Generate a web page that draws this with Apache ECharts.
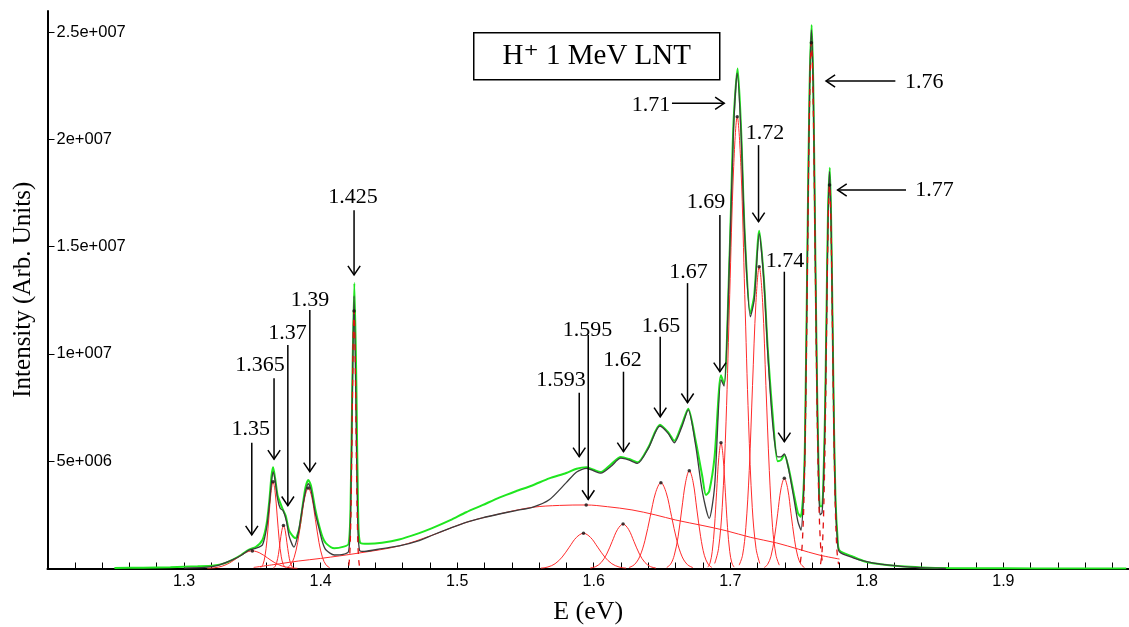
<!DOCTYPE html>
<html><head><meta charset="utf-8">
<script src="https://cdn.jsdelivr.net/npm/echarts@6/dist/echarts.min.js"></script>
<style>html,body{margin:0;padding:0;background:#fff}#c{width:1129px;height:627px}</style>
</head><body><div id="c"></div>
<script>
// Intensities in units of 1e6 (Arb. Units); energies in eV
const measured = [[1.249,0.02],[1.27,0.04],[1.29,0.06],[1.31,0.1],[1.322,0.14],[1.33,0.25],[1.3354,0.4],[1.342,0.64],[1.3476,0.88],[1.3525,1.0],[1.3574,1.33],[1.3605,2.1],[1.3625,3.2],[1.364,4.3],[1.3652,4.72],[1.3667,4.2],[1.3685,3.4],[1.3705,3.05],[1.372,2.8],[1.3745,2.45],[1.377,1.75],[1.3815,1.41],[1.3845,1.9],[1.387,3.0],[1.389,3.8],[1.391,4.12],[1.393,3.85],[1.396,2.8],[1.3985,2.1],[1.4015,1.45],[1.404,1.17],[1.41,0.94],[1.417,1.02],[1.4205,1.15],[1.4219,2.8],[1.4232,8.5],[1.4247,13.3],[1.4262,8.5],[1.4275,2.6],[1.429,1.2],[1.435,1.15],[1.445,1.2],[1.4575,1.35],[1.4722,1.65],[1.4817,1.88],[1.495,2.25],[1.5066,2.62],[1.5185,2.95],[1.5308,3.3],[1.543,3.6],[1.555,3.87],[1.5674,4.2],[1.5799,4.45],[1.5875,4.65],[1.5947,4.72],[1.6,4.6],[1.6053,4.5],[1.6125,4.85],[1.6199,5.2],[1.626,5.1],[1.6321,4.95],[1.64,5.65],[1.6485,6.7],[1.6545,6.35],[1.659,5.95],[1.6645,6.7],[1.6692,7.45],[1.6745,6.0],[1.6795,4.3],[1.6822,3.42],[1.6846,3.6],[1.6885,5.2],[1.6932,9.0],[1.6955,8.6],[1.6996,14.8],[1.7024,20.8],[1.7054,23.3],[1.7079,20.5],[1.7106,15.6],[1.7147,11.9],[1.7175,12.7],[1.7212,15.74],[1.7245,13.6],[1.7275,10.2],[1.731,7.2],[1.7347,5.0],[1.7371,5.05],[1.7396,5.3],[1.7425,4.75],[1.7465,3.5],[1.7495,2.6],[1.7515,2.41],[1.7535,3.5],[1.7548,6.3],[1.7567,16.0],[1.7581,22.5],[1.7596,25.33],[1.7608,22.5],[1.7621,15.7],[1.7635,8.7],[1.7648,4.3],[1.7657,2.9],[1.7672,2.9],[1.7683,4.3],[1.7694,7.3],[1.7705,12.0],[1.7716,16.7],[1.7729,18.68],[1.7738,16.5],[1.7749,11.6],[1.776,6.5],[1.7771,3.2],[1.7785,1.5],[1.7799,0.85],[1.79,0.55],[1.8,0.3],[1.81,0.2],[1.825,0.1],[1.84,0.05],[1.86,0.02],[1.9,0.01],[1.95,0.0],[1.99,0.0]];

const fit = [[1.30,0.02],[1.315,0.05],[1.325,0.15],[1.3354,0.4],[1.342,0.62],[1.3476,0.86],[1.3525,0.94],[1.3574,1.1],[1.3605,1.9],[1.3625,3.0],[1.364,4.0],[1.3652,4.5],[1.3667,4.1],[1.3685,3.25],[1.3705,2.8],[1.3725,2.7],[1.375,2.2],[1.377,1.5],[1.3805,1.0],[1.3835,1.6],[1.3865,2.75],[1.389,3.6],[1.391,3.95],[1.393,3.65],[1.396,2.6],[1.3985,1.95],[1.4015,1.2],[1.404,0.86],[1.41,0.63],[1.4165,0.66],[1.4205,0.8],[1.4219,2.4],[1.4232,8.0],[1.4245,12.7],[1.4258,8.0],[1.4271,2.4],[1.4285,0.85],[1.432,0.8],[1.445,0.93],[1.4575,1.05],[1.4722,1.3],[1.4817,1.55],[1.495,1.88],[1.5066,2.15],[1.5185,2.36],[1.5308,2.54],[1.543,2.7],[1.555,2.85],[1.5674,3.2],[1.5799,4.0],[1.5875,4.5],[1.5947,4.67],[1.6,4.55],[1.6053,4.44],[1.6125,4.75],[1.6199,5.14],[1.626,5.05],[1.6321,4.9],[1.64,5.6],[1.6485,6.64],[1.6545,6.3],[1.659,5.86],[1.6645,6.6],[1.6692,7.39],[1.6745,5.8],[1.6795,3.6],[1.6846,2.34],[1.6885,3.8],[1.6932,8.8],[1.6955,8.5],[1.6996,14.7],[1.7024,20.5],[1.7051,23.1],[1.7079,20.3],[1.7106,15.5],[1.7147,11.73],[1.7175,12.5],[1.7212,15.6],[1.7245,13.5],[1.7275,10.0],[1.731,6.8],[1.7347,5.2],[1.7371,5.2],[1.7396,5.34],[1.7425,4.7],[1.7465,3.3],[1.7495,2.2],[1.7518,1.79],[1.7535,3.2],[1.7548,6.0],[1.7567,15.8],[1.7581,22.3],[1.7594,25.1],[1.7608,22.3],[1.7621,15.5],[1.7635,8.5],[1.7648,4.0],[1.7657,2.5],[1.7672,2.6],[1.7683,4.0],[1.7694,7.0],[1.7705,11.6],[1.7716,16.3],[1.7727,18.5],[1.7738,16.3],[1.7749,11.4],[1.776,6.3],[1.7771,3.0],[1.7785,1.3],[1.7799,0.78],[1.79,0.5],[1.8,0.32],[1.81,0.2],[1.825,0.1],[1.84,0.04],[1.858,0.0]];

// fitted components
const comp135 = [[1.317,0.009],[1.3225,0.036],[1.328,0.111],[1.3335,0.266],[1.339,0.498],[1.3445,0.723],[1.35,0.82],[1.3555,0.723],[1.361,0.498],[1.3665,0.266],[1.372,0.111],[1.3775,0.036],[1.383,0.009]];
const comp1365 = [[1.3562,0.045],[1.3577,0.177],[1.3592,0.545],[1.3607,1.312],[1.3622,2.45],[1.3637,3.563],[1.3652,4.04],[1.3667,3.563],[1.3682,2.45],[1.3697,1.312],[1.3712,0.545],[1.3727,0.177],[1.3742,0.045]];
const comp137 = [[1.3653,0.022],[1.3666,0.088],[1.3678,0.27],[1.3691,0.65],[1.3703,1.213],[1.3716,1.765],[1.3728,2.0],[1.3741,1.765],[1.3753,1.213],[1.3766,0.65],[1.3778,0.27],[1.3791,0.088],[1.3803,0.022]];
const comp139 = [[1.3754,0.042],[1.378,0.165],[1.3806,0.507],[1.3832,1.218],[1.3858,2.275],[1.3884,3.308],[1.391,3.75],[1.3936,3.308],[1.3962,2.275],[1.3988,1.218],[1.4014,0.507],[1.404,0.165],[1.4066,0.042]];
const comp1425 = [[1.4206,0.133],[1.42125,0.527],[1.4219,1.624],[1.42255,3.896],[1.4232,7.28],[1.42385,10.59],[1.4245,12.0],[1.42515,10.59],[1.4258,7.28],[1.42645,3.896],[1.4271,1.624],[1.42775,0.527],[1.4284,0.133]];
const comp1595 = [[1.351,0.05],[1.37,0.22],[1.384,0.35],[1.40,0.47],[1.428,0.72],[1.4575,1.05],[1.4817,1.55],[1.5066,2.15],[1.5308,2.54],[1.555,2.85],[1.575,2.94],[1.5945,2.96],[1.61,2.88],[1.628,2.73],[1.645,2.5],[1.66,2.26],[1.68,2.0],[1.697,1.76],[1.715,1.45],[1.734,1.19],[1.75,0.9],[1.765,0.63],[1.78,0.44]];
const comp1593 = [[1.5613,0.018],[1.5665,0.072],[1.5717,0.222],[1.5769,0.533],[1.5821,0.995],[1.5873,1.447],[1.5925,1.64],[1.5977,1.447],[1.6029,0.995],[1.6081,0.533],[1.6133,0.222],[1.6185,0.072],[1.6237,0.018]];
const comp162 = [[1.5975,0.023],[1.6015,0.091],[1.6055,0.28],[1.6095,0.672],[1.6135,1.256],[1.6175,1.826],[1.6215,2.07],[1.6255,1.826],[1.6295,1.256],[1.6335,0.672],[1.6375,0.28],[1.6415,0.091],[1.6455,0.023]];
const comp165 = [[1.6258,0.044],[1.6297,0.176],[1.6336,0.541],[1.6375,1.299],[1.6414,2.427],[1.6453,3.53],[1.6492,4.0],[1.6531,3.53],[1.657,2.427],[1.6609,1.299],[1.6648,0.541],[1.6687,0.176],[1.6726,0.044]];
const comp167 = [[1.6535,0.05],[1.6563,0.2],[1.659,0.617],[1.6618,1.481],[1.6645,2.768],[1.6673,4.024],[1.67,4.56],[1.6728,4.024],[1.6755,2.768],[1.6783,1.481],[1.681,0.617],[1.6838,0.2],[1.6865,0.05]];
const comp169 = [[1.6836,0.065],[1.6852,0.257],[1.6868,0.793],[1.6884,1.903],[1.69,3.557],[1.6916,5.168],[1.6932,5.86],[1.6948,5.168],[1.6964,3.557],[1.698,1.903],[1.6996,0.793],[1.7012,0.257],[1.7028,0.065]];
const comp171 = [[1.6886,0.234],[1.6914,0.924],[1.6941,2.848],[1.6969,6.835],[1.6996,12.77],[1.7024,18.57],[1.7051,21.05],[1.7079,18.57],[1.7106,12.77],[1.7134,6.835],[1.7161,2.848],[1.7189,0.924],[1.7216,0.234]];
const comp172 = [[1.7065,0.156],[1.709,0.617],[1.7114,1.902],[1.7139,4.565],[1.7163,8.534],[1.7188,12.4],[1.7212,14.06],[1.7237,12.4],[1.7261,8.534],[1.7286,4.565],[1.731,1.902],[1.7335,0.617],[1.7359,0.156]];
const comp174 = [[1.7249,0.046],[1.7273,0.185],[1.7298,0.568],[1.7322,1.364],[1.7347,2.549],[1.7371,3.705],[1.7396,4.2],[1.7421,3.705],[1.7445,2.549],[1.747,1.364],[1.7494,0.568],[1.7519,0.185],[1.7543,0.046]];
const comp176 = [[1.7513,0.272],[1.75265,1.075],[1.754,3.315],[1.75535,7.96],[1.7567,14.87],[1.75805,21.61],[1.7594,24.5],[1.76075,21.61],[1.7621,14.87],[1.76345,7.96],[1.7648,3.315],[1.76615,1.075],[1.7675,0.272]];
const comp177 = [[1.7661,0.198],[1.7672,0.784],[1.7683,2.418],[1.7694,5.802],[1.7705,10.84],[1.7716,15.76],[1.7727,17.87],[1.7738,15.76],[1.7749,10.84],[1.776,5.802],[1.7771,2.418],[1.7782,0.784],[1.7793,0.198]];

const peakDots = [[1.35,0.82],[1.3652,4.04],[1.3728,2.0],[1.391,3.75],[1.4245,12.0],[1.5945,2.96],[1.5925,1.64],[1.6215,2.07],[1.6492,4.0],[1.67,4.56],[1.6932,5.86],[1.7051,21.05],[1.7212,14.06],[1.7396,4.2],[1.7594,24.5],[1.7727,17.87]];

const yTickLabels = {5:'5e+006',10:'1e+007',15:'1.5e+007',20:'2e+007',25:'2.5e+007'};
const xTickLabels = ['1.3','1.4','1.5','1.6','1.7','1.8','1.9'];

// peak annotations: text, arrow tail, arrow tip, label centre (data coordinates)
const annoText  = ['1.35','1.365','1.37','1.39','1.425','1.593','1.595','1.62','1.65','1.67','1.69','1.71','1.72','1.74','1.76','1.77'];
const annoTail  = [[1.3496,5.86],[1.3659,8.86],[1.376,10.41],[1.3921,12.05],[1.4245,16.7],[1.5894,8.19],[1.596,10.88],[1.6218,9.17],[1.6487,10.8],[1.6687,13.3],[1.6924,16.47],[1.6573,21.68],[1.7207,19.73],[1.7396,13.83],[1.8209,22.72],[1.8287,17.64]];
const annoTip   = [[1.3496,1.56],[1.3659,5.09],[1.376,2.93],[1.3921,4.51],[1.4245,13.68],[1.5894,5.21],[1.596,3.22],[1.6218,5.44],[1.6487,7.07],[1.6687,7.73],[1.6924,9.17],[1.6956,21.68],[1.7207,16.16],[1.7396,5.91],[1.7701,22.72],[1.7786,17.64]];
const annoLabel = [[1.3489,6.49],[1.3557,9.48],[1.3757,10.96],[1.3923,12.51],[1.4238,17.28],[1.576,8.78],[1.5955,11.11],[1.6211,9.72],[1.6492,11.3],[1.6694,13.83],[1.6822,17.09],[1.6419,21.6],[1.7254,20.28],[1.7401,14.3],[1.8421,22.64],[1.8495,17.64]];

const titleText = 'H\u207A 1 MeV LNT';

const SERIF = '"Liberation Serif","DejaVu Serif",serif';
const SANS = '"Liberation Sans",Arial,sans-serif';

const red = '#ff2b2b';
const solidComps = [comp135, comp1365, comp137, comp139, comp1595, comp1593, comp162, comp165, comp167, comp169, comp171, comp172, comp174];
const dashedComps = [comp1425, comp176, comp177];

const series = [];
series.push({type:'line', name:'measured', data:measured, showSymbol:false, smooth:0.25, z:1,
  lineStyle:{color:'#1fe61f', width:2}, itemStyle:{color:'#1fe61f'}, silent:true});
solidComps.forEach(c => series.push({type:'line', data:c, showSymbol:false, smooth:0.35, z:2,
  lineStyle:{color:red, width:1}, silent:true}));
series.push({type:'line', name:'fit', data:fit, showSymbol:false, smooth:0.25, z:3,
  lineStyle:{color:'#3c3c3c', width:1.3}, silent:true});
dashedComps.forEach(c => series.push({type:'line', data:c, showSymbol:false, smooth:0.35, z:4,
  lineStyle:{color:'#e01010', width:1.3, type:[6,6]}, silent:true}));
series.push({type:'scatter', data:peakDots, symbol:'circle', symbolSize:3.5, z:5,
  itemStyle:{color:'#111'}, silent:true});
series.push({type:'custom', data:annoTip, z:6, silent:true, clip:false,
  renderItem:function(params, api){
    const i = params.dataIndex;
    const t = api.coord(annoTail[i]), p = api.coord(annoTip[i]), l = api.coord(annoLabel[i]);
    const dx = p[0]-t[0], dy = p[1]-t[1], len = Math.hypot(dx,dy) || 1;
    const bx = -dx/len, by = -dy/len, L = 11, a = 34*Math.PI/180;
    const ca = Math.cos(a), sa = Math.sin(a);
    const a1 = [p[0] + L*(bx*ca - by*sa), p[1] + L*(bx*sa + by*ca)];
    const a2 = [p[0] + L*(bx*ca + by*sa), p[1] + L*(-bx*sa + by*ca)];
    return {type:'group', children:[
      {type:'line', shape:{x1:t[0], y1:t[1], x2:p[0], y2:p[1]}, style:{stroke:'#000', lineWidth:1.5}},
      {type:'polyline', shape:{points:[a1,p,a2]}, style:{stroke:'#000', lineWidth:1.5, fill:'none'}},
      {type:'text', x:l[0], y:l[1], style:{text:annoText[i], fontFamily:SERIF, fontSize:22, fill:'#000', align:'center', verticalAlign:'middle'}}
    ]};
  }});

const chart = echarts.init(document.getElementById('c'), null, {renderer:'canvas'});
chart.setOption({
  animation:false,
  backgroundColor:'#fff',
  grid:{left:47.5, right:0, top:11, bottom:58.5, containLabel:false, outerBoundsMode:'none'},
  xAxis:[{
    type:'value', min:1.2, max:1.992, interval:0.1,
    name:'E (eV)', nameLocation:'middle', nameGap:31,
    nameTextStyle:{fontFamily:SERIF, fontSize:26, color:'#000'},
    axisLine:{show:true, onZero:false, lineStyle:{color:'#000', width:2}},
    axisTick:{show:true, inside:true, length:6, lineStyle:{color:'#000', width:1}},
    minorTick:{show:true, splitNumber:5, length:6, lineStyle:{color:'#000', width:1}},
    splitLine:{show:false},
    axisLabel:{fontFamily:SANS, fontSize:16, color:'#000', margin:5, showMaxLabel:false, showMinLabel:false,
      formatter:function(v){ const k = Math.round(v*10); if (Math.abs(v*10-k) > 1e-6) return ''; const s = (k/10).toFixed(1); return xTickLabels.indexOf(s) >= 0 ? s : ''; }}
  },{
    type:'value', position:'top', min:0, max:1,
    axisLine:{show:true, lineStyle:{color:'#000', width:1.5}},
    axisTick:{show:false}, axisLabel:{show:false}, splitLine:{show:false}
  }],
  yAxis:{
    type:'value', min:0, max:25.98, interval:5,
    name:'Intensity (Arb. Units)', nameLocation:'middle', nameGap:12, nameRotate:90,
    nameTextStyle:{fontFamily:SERIF, fontSize:25, color:'#000'},
    axisLine:{show:true, onZero:false, lineStyle:{color:'#000', width:2}},
    axisTick:{show:true, inside:true, length:7, lineStyle:{color:'#000', width:1}},
    splitLine:{show:false},
    axisLabel:{inside:true, margin:9, fontFamily:SANS, fontSize:16.5, color:'#000', showMaxLabel:false,
      formatter:function(v){ const k = Math.round(v); return (Math.abs(v-k) < 1e-6 && yTickLabels[k]) ? yTickLabels[k] : ''; }}
  },
  graphic:[{
    type:'group', left:473, top:32, children:[
      {type:'rect', shape:{x:0, y:0, width:246, height:47}, style:{fill:'#fff', stroke:'#000', lineWidth:1.5}},
      {type:'text', x:123, y:24, style:{text:titleText, fontFamily:SERIF, fontSize:29, fill:'#000', align:'center', verticalAlign:'middle'}}
    ]
  }],
  series:series
});
</script></body></html>
